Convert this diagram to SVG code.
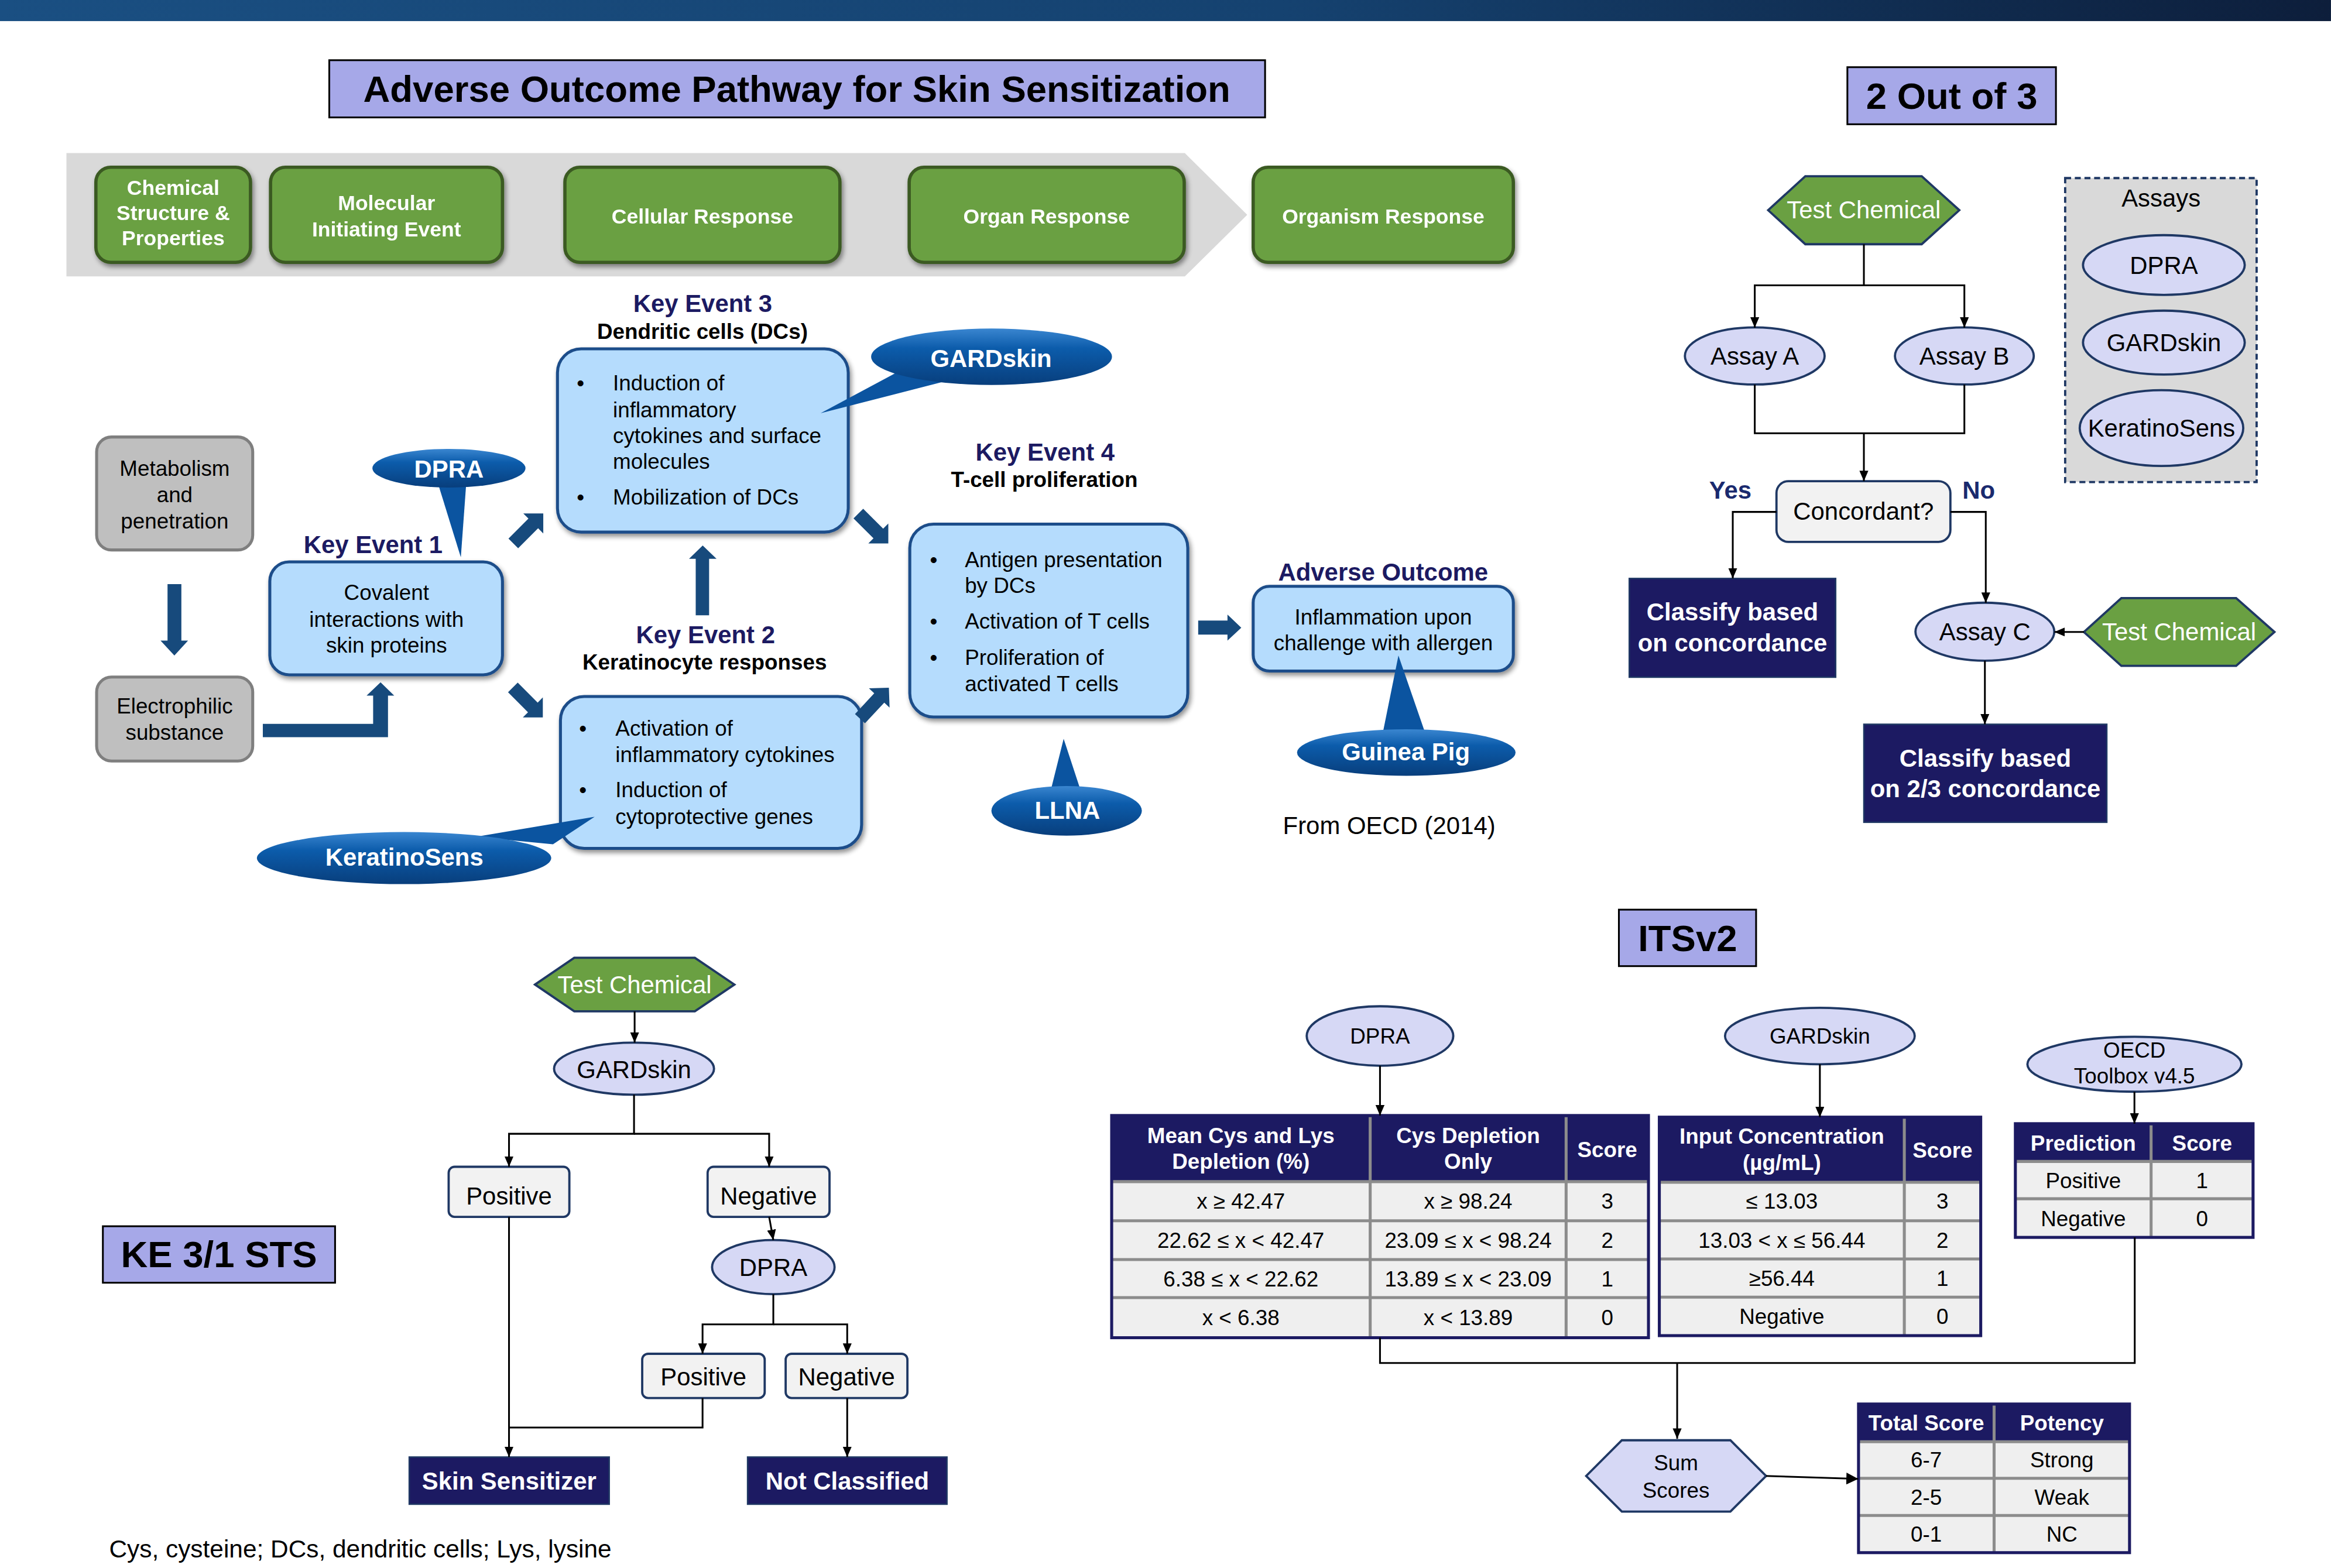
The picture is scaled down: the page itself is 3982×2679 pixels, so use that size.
<svg xmlns="http://www.w3.org/2000/svg" width="3982" height="2679" viewBox="0 0 3982 2679">
<defs>
<style>
text{font-family:"Liberation Sans",Arial,Helvetica,sans-serif;fill:#000}
.b{font-weight:bold}
.m{text-anchor:middle}
.w{fill:#fff}
.nv{fill:#1c1a62}
.f25{font-size:25px}
.f165{font-size:16.5px}
.f145{font-size:14.5px}
.f14{font-size:14px}
.green{fill:#6aa042;stroke:#3b5a22;stroke-width:2.2}
.blue{fill:#b5dcfd;stroke:#1f4e8a;stroke-width:2}
.gray{fill:#bfbfbf;stroke:#7f7f7f;stroke-width:2}
.lav{fill:#a6a8e8;stroke:#000;stroke-width:1.2}
.ell{fill:#d6d8f5;stroke:#1f3864;stroke-width:1.5}
.hexg{fill:#6aa042;stroke:#1f3864;stroke-width:1.5}
.navy{fill:#1c1a62;stroke:#1f3864;stroke-width:1}
.pn{fill:#f2f2f2;stroke:#1f3864;stroke-width:1.5}
.blk{fill:#174a7c}
.co{fill:url(#cog)}
.cot{fill:#0b54a0}
.ln{fill:none;stroke:#000;stroke-width:1.2}
.th{fill:#1c1a62}
.tb{fill:#efefef}
.gl{stroke:#8c8c8c;stroke-width:2}
.tbo{fill:none;stroke:#1c1a62;stroke-width:2}
</style>
<linearGradient id="hdr" x1="0" y1="0" x2="1" y2="0"><stop offset="0" stop-color="#1a4f82"/><stop offset="0.55" stop-color="#154270"/><stop offset="1" stop-color="#0d1e3b"/></linearGradient>
<linearGradient id="cog" x1="0" y1="0" x2="0" y2="1"><stop offset="0" stop-color="#3a86d0"/><stop offset="0.35" stop-color="#0c5cab"/><stop offset="1" stop-color="#083e7c"/></linearGradient>
<filter id="sh" x="-10%" y="-10%" width="125%" height="135%"><feGaussianBlur in="SourceAlpha" stdDeviation="1.6"/><feOffset dx="1.2" dy="1.8"/><feComponentTransfer><feFuncA type="linear" slope="0.45"/></feComponentTransfer><feMerge><feMergeNode/><feMergeNode in="SourceGraphic"/></feMerge></filter>
<marker id="ah" viewBox="0 0 7 6" refX="7" refY="3" markerWidth="7" markerHeight="6" markerUnits="userSpaceOnUse" orient="auto"><path d="M0,0 L7,3 L0,6 Z" fill="#000"/></marker>
<marker id="ahb" viewBox="0 0 8 8" refX="8" refY="4" markerWidth="8" markerHeight="8" markerUnits="userSpaceOnUse" orient="auto"><path d="M0,0 L8,4 L0,8 Z" fill="#000"/></marker>
<path id="diag" d="M0,-4.6 L19,-4.6 L19,-9.5 L28.5,0 L19,9.5 L19,4.6 L0,4.6 Z"/>
</defs>
<g transform="scale(2.5395)">
<rect x="0" y="0" width="1568" height="14.2" fill="url(#hdr)"/>

<!-- ===== AOP section ===== -->
<g id="aop-title"><rect class="lav" x="221.5" y="40.5" width="629.5" height="38.5"/><text class="b m f25" x="536" y="68.5">Adverse Outcome Pathway for Skin Sensitization</text></g>

<polygon id="aop-band" points="44.7,103 797,103 839,144.5 797,186 44.7,186" fill="#d9d9d9"/>

<g id="g-chem" filter="url(#sh)"><rect class="green" x="64.5" y="112.5" width="104" height="64" rx="10"/>
<text class="b m w f14" x="116.5" y="131">Chemical</text><text class="b m w f14" x="116.5" y="148">Structure &amp;</text><text class="b m w f14" x="116.5" y="165">Properties</text></g>
<g id="g-mie" filter="url(#sh)"><rect class="green" x="182" y="112.5" width="156" height="64" rx="10"/>
<text class="b m w f14" x="260" y="141.5">Molecular</text><text class="b m w f14" x="260" y="159">Initiating Event</text></g>
<g id="g-cell" filter="url(#sh)"><rect class="green" x="380" y="112.5" width="185" height="64" rx="10"/><text class="b m w f14" x="472.5" y="150.5">Cellular Response</text></g>
<g id="g-organ" filter="url(#sh)"><rect class="green" x="611.6" y="112.5" width="185" height="64" rx="10"/><text class="b m w f14" x="704" y="150.5">Organ Response</text></g>
<g id="g-organism" filter="url(#sh)"><rect class="green" x="843" y="112.5" width="175" height="64" rx="10"/><text class="b m w f14" x="930.5" y="150.5">Organism Response</text></g>

<g id="metabolism"><rect class="gray" x="65" y="294" width="105" height="76" rx="10"/>
<text class="m f145" x="117.5" y="320">Metabolism</text><text class="m f145" x="117.5" y="338">and</text><text class="m f145" x="117.5" y="355.4">penetration</text></g>
<g id="electrophilic"><rect class="gray" x="65" y="455.5" width="105" height="56.5" rx="10"/>
<text class="m f145" x="117.5" y="480">Electrophilic</text><text class="m f145" x="117.5" y="497.6">substance</text></g>

<g id="ke1"><text class="b m nv f165" x="251" y="372">Key Event 1</text>
<rect class="blue" x="181.5" y="378" width="156.5" height="76" rx="13" filter="url(#sh)"/>
<text class="m f145" x="260" y="403.7">Covalent</text><text class="m f145" x="260" y="421.8">interactions with</text><text class="m f145" x="260" y="439">skin proteins</text></g>

<g id="ke3"><text class="b m nv f165" x="472.7" y="210">Key Event 3</text><text class="b m f145" x="472.5" y="228">Dendritic cells (DCs)</text>
<rect class="blue" x="375" y="234.7" width="195.6" height="123.3" rx="16" filter="url(#sh)"/>
<text class="f145" x="388" y="262.8">•</text><text class="f145" x="412.3" y="262.8">Induction of</text>
<text class="f145" x="412.3" y="280.8">inflammatory</text><text class="f145" x="412.3" y="298">cytokines and surface</text><text class="f145" x="412.3" y="315.3">molecules</text>
<text class="f145" x="388" y="339.6">•</text><text class="f145" x="412.3" y="339.6">Mobilization of DCs</text></g>

<g id="ke2"><text class="b m nv f165" x="474.6" y="432.7">Key Event 2</text><text class="b m f145" x="474" y="450.6">Keratinocyte responses</text>
<rect class="blue" x="377" y="468.6" width="202.6" height="102.2" rx="16" filter="url(#sh)"/>
<text class="f145" x="389.5" y="494.8">•</text><text class="f145" x="414" y="494.8">Activation of</text><text class="f145" x="414" y="512.7">inflammatory cytokines</text>
<text class="f145" x="389.5" y="536.3">•</text><text class="f145" x="414" y="536.3">Induction of</text><text class="f145" x="414" y="554.3">cytoprotective genes</text></g>

<g id="ke4"><text class="b m nv f165" x="703" y="309.8">Key Event 4</text><text class="b m f145" x="702.5" y="327.6">T-cell proliferation</text>
<rect class="blue" x="612" y="352.6" width="187" height="129.8" rx="16" filter="url(#sh)"/>
<text class="f145" x="625.5" y="381.6">•</text><text class="f145" x="649" y="381.6">Antigen presentation</text><text class="f145" x="649" y="399">by DCs</text>
<text class="f145" x="625.5" y="423">•</text><text class="f145" x="649" y="423">Activation of T cells</text>
<text class="f145" x="625.5" y="447.3">•</text><text class="f145" x="649" y="447.3">Proliferation of</text><text class="f145" x="649" y="465">activated T cells</text></g>

<g id="adverse-outcome"><text class="b m nv f165" x="930.4" y="390.5">Adverse Outcome</text>
<rect class="blue" x="843" y="394.5" width="175" height="57" rx="11" filter="url(#sh)"/>
<text class="m f145" x="930.5" y="420">Inflammation upon</text><text class="m f145" x="930.5" y="437.5">challenge with allergen</text></g>

<text id="oecd-source" class="m f165" x="934.5" y="561">From OECD (2014)</text>

<g id="aop-arrows">
<polygon class="blk" points="112.7,393 122,393 122,431 126.5,431 117.3,441 108,431 112.7,431"/>
<polygon class="blk" points="176.8,487 251,487 251,468 246.6,468 256,459 265.2,468 261,468 261,496 176.8,496"/>
<polygon class="blk" points="468,414 477,414 477,376 482,376 472.7,367 463.5,376 468,376"/>
<polygon class="blk" points="806,417.5 825.7,417.5 825.7,413.5 835,422.3 825.7,431 825.7,427 806,427"/>
<use href="#diag" class="blk" transform="translate(345.3,365.6) rotate(-45)"/>
<use href="#diag" class="blk" transform="translate(345,462.5) rotate(45)"/>
<use href="#diag" class="blk" transform="translate(577.4,345.5) rotate(45)"/>
<use href="#diag" class="blk" transform="translate(578.5,483.5) rotate(-47)"/>
</g>

<g id="callout-dpra"><polygon class="cot" points="293,320 314,320 310,375"/><ellipse class="co" cx="302" cy="315" rx="51.5" ry="13"/><text class="b m w f165" x="302" y="321.4">DPRA</text></g>
<g id="callout-gardskin"><polygon class="cot" points="608,248 638,256 552,278"/><ellipse class="co" cx="667" cy="240" rx="81" ry="19"/><text class="b m w f165" x="666.7" y="246.8">GARDskin</text></g>
<g id="callout-keratinosens"><polygon class="cot" points="320,563 372,568 400,549.5"/><ellipse class="co" cx="271.8" cy="577.3" rx="99" ry="17.5"/><text class="b m w f165" x="272" y="582.5">KeratinoSens</text></g>
<g id="callout-llna"><polygon class="cot" points="706,535 728,535 715.5,497"/><ellipse class="co" cx="717.5" cy="545.5" rx="50.6" ry="16.7"/><text class="b m w f165" x="718" y="550.7">LLNA</text></g>
<g id="callout-guineapig"><polygon class="cot" points="930,494 959,494 940.7,441"/><ellipse class="co" cx="946" cy="506.3" rx="73.5" ry="15.7"/><text class="b m w f165" x="945.7" y="511.4">Guinea Pig</text></g>

<!-- ===== 2 out of 3 ===== -->
<g id="t2o3-title"><rect class="lav" x="1242.7" y="45.2" width="140.3" height="38.4"/><text class="b m f25" x="1312.9" y="73.4">2 Out of 3</text></g>
<g id="t2o3-test"><polygon class="hexg" points="1189.4,141.4 1214.4,118.6 1292.7,118.6 1318,141.4 1292.7,164.3 1214.4,164.3"/><text class="m w f165" x="1253.7" y="147">Test Chemical</text></g>
<g id="assay-a"><ellipse class="ell" cx="1180.4" cy="239.5" rx="47" ry="19.2"/><text class="m f165" x="1180.4" y="245.3">Assay A</text></g>
<g id="assay-b"><ellipse class="ell" cx="1321.4" cy="239.5" rx="46.7" ry="19.2"/><text class="m f165" x="1321.4" y="245.3">Assay B</text></g>
<g id="concordant"><rect class="pn" x="1195" y="323.7" width="117" height="40.9" rx="8"/><text class="m f165" x="1253.5" y="349.7">Concordant?</text></g>
<text class="b m f165" x="1164" y="335.6" style="fill:#1a2a6e">Yes</text>
<text class="b m f165" x="1331" y="335.6" style="fill:#1a2a6e">No</text>
<g id="classify-1"><rect class="navy" x="1096" y="389.2" width="138.8" height="66.4"/><text class="b m w f165" x="1165.4" y="417.3">Classify based</text><text class="b m w f165" x="1165.4" y="438.3">on concordance</text></g>
<g id="assay-c"><ellipse class="ell" cx="1335.2" cy="425" rx="46.7" ry="19.5"/><text class="m f165" x="1335.2" y="430.6">Assay C</text></g>
<g id="t2o3-test2"><polygon class="hexg" points="1401.8,425.2 1427,402.4 1504.2,402.4 1530,425.2 1504.2,448 1427,448"/><text class="m w f165" x="1465.9" y="430.6">Test Chemical</text></g>
<g id="classify-2"><rect class="navy" x="1253.8" y="487.3" width="163.4" height="65.9"/><text class="b m w f165" x="1335.5" y="515.8">Classify based</text><text class="b m w f165" x="1335.5" y="536.5">on 2/3 concordance</text></g>
<g id="assays-box"><rect x="1389.2" y="119.8" width="128.8" height="204.5" fill="#d9d9d9" stroke="#1f3864" stroke-width="1.5" stroke-dasharray="4,2.5"/>
<text class="m f165" x="1453.7" y="139">Assays</text>
<ellipse class="ell" cx="1455.6" cy="178.3" rx="54.4" ry="20.1"/><text class="m f165" x="1455.6" y="184.2">DPRA</text>
<ellipse class="ell" cx="1455.6" cy="230.5" rx="54.4" ry="21.5"/><text class="m f165" x="1455.6" y="236.2">GARDskin</text>
<ellipse class="ell" cx="1454" cy="288" rx="55" ry="25.5"/><text class="m f165" x="1454" y="293.6">KeratinoSens</text></g>
<g id="t2o3-connectors">
<path class="ln" d="M1253.8,164.3 V192 H1180.4 V220.4" marker-end="url(#ah)"/>
<path class="ln" d="M1253.8,192 H1321.4 V220.4" marker-end="url(#ah)"/>
<path class="ln" d="M1180.4,258.7 V291.5 H1321.4 V258.7"/>
<path class="ln" d="M1253.8,291.5 V323.7" marker-end="url(#ah)"/>
<path class="ln" d="M1195,344.4 H1165.6 V389.2" marker-end="url(#ah)"/>
<path class="ln" d="M1312,344.4 H1335.8 V405.6" marker-end="url(#ah)"/>
<path class="ln" d="M1401.8,425.2 H1382" stroke-width="2" marker-end="url(#ah)"/>
<path class="ln" d="M1335.2,444.5 V487.3" marker-end="url(#ah)"/>
</g>

<!-- ===== ITSv2 ===== -->
<g id="its-title"><rect class="lav" x="1089" y="612" width="92.3" height="38"/><text class="b m f25" x="1135.2" y="640">ITSv2</text></g>
<g id="its-dpra"><ellipse class="ell" cx="928.3" cy="697" rx="49.3" ry="20"/><text class="m f145" x="928.3" y="702.2">DPRA</text></g>
<g id="its-gardskin"><ellipse class="ell" cx="1224.2" cy="697" rx="63.8" ry="19"/><text class="m f145" x="1224.2" y="702.2">GARDskin</text></g>
<g id="its-oecd"><ellipse class="ell" cx="1435.8" cy="716" rx="72" ry="18.5"/><text class="m f145" x="1435.8" y="711.4">OECD</text><text class="m f145" x="1435.8" y="729">Toolbox v4.5</text></g>

<g id="table-dpra">
<rect class="tb" x="747.8" y="750.5" width="361.1" height="149.5"/>
<rect class="th" x="747.8" y="750.5" width="361.1" height="44.1"/>
<line class="gl" x1="747.8" y1="795" x2="1108.9" y2="795" stroke-width="2.6"/>
<line class="gl" x1="747.8" y1="821.3" x2="1108.9" y2="821.3"/>
<line class="gl" x1="747.8" y1="847.4" x2="1108.9" y2="847.4"/>
<line class="gl" x1="747.8" y1="873" x2="1108.9" y2="873"/>
<line class="gl" x1="921.7" y1="751.5" x2="921.7" y2="900" stroke-width="1.5"/>
<line class="gl" x1="1053.5" y1="751.5" x2="1053.5" y2="900" stroke-width="1.5"/>
<rect class="tbo" x="747.8" y="750.5" width="361.1" height="149.5"/>
<text class="b m w f145" x="834.7" y="769">Mean Cys and Lys</text><text class="b m w f145" x="834.7" y="786.5">Depletion (%)</text>
<text class="b m w f145" x="987.6" y="769">Cys Depletion</text><text class="b m w f145" x="987.6" y="786.5">Only</text>
<text class="b m w f145" x="1081.2" y="778.5">Score</text>
<text class="m f145" x="834.7" y="813.2">x ≥ 42.47</text><text class="m f145" x="987.6" y="813.2">x ≥ 98.24</text><text class="m f145" x="1081.2" y="813.2">3</text>
<text class="m f145" x="834.7" y="839.5">22.62 ≤ x &lt; 42.47</text><text class="m f145" x="987.6" y="839.5">23.09 ≤ x &lt; 98.24</text><text class="m f145" x="1081.2" y="839.5">2</text>
<text class="m f145" x="834.7" y="865.4">6.38 ≤ x &lt; 22.62</text><text class="m f145" x="987.6" y="865.4">13.89 ≤ x &lt; 23.09</text><text class="m f145" x="1081.2" y="865.4">1</text>
<text class="m f145" x="834.7" y="891.7">x &lt; 6.38</text><text class="m f145" x="987.6" y="891.7">x &lt; 13.89</text><text class="m f145" x="1081.2" y="891.7">0</text>
</g>

<g id="table-gardskin">
<rect class="tb" x="1116.2" y="751.6" width="216.2" height="147"/>
<rect class="th" x="1116.2" y="751.6" width="216.2" height="43.4"/>
<line class="gl" x1="1116.2" y1="795.4" x2="1332.4" y2="795.4" stroke-width="2.6"/>
<line class="gl" x1="1116.2" y1="821.3" x2="1332.4" y2="821.3"/>
<line class="gl" x1="1116.2" y1="847" x2="1332.4" y2="847"/>
<line class="gl" x1="1116.2" y1="872.7" x2="1332.4" y2="872.7"/>
<line class="gl" x1="1281" y1="752.6" x2="1281" y2="898.6" stroke-width="1.5"/>
<rect class="tbo" x="1116.2" y="751.6" width="216.2" height="147"/>
<text class="b m w f145" x="1198.6" y="769.5">Input Concentration</text><text class="b m w f145" x="1198.6" y="787">(µg/mL)</text>
<text class="b m w f145" x="1306.7" y="778.8">Score</text>
<text class="m f145" x="1198.6" y="813.3">≤ 13.03</text><text class="m f145" x="1306.7" y="813.3">3</text>
<text class="m f145" x="1198.6" y="839.4">13.03 &lt; x ≤ 56.44</text><text class="m f145" x="1306.7" y="839.4">2</text>
<text class="m f145" x="1198.6" y="865">≥56.44</text><text class="m f145" x="1306.7" y="865">1</text>
<text class="m f145" x="1198.6" y="890.9">Negative</text><text class="m f145" x="1306.7" y="890.9">0</text>
</g>

<g id="table-oecd">
<rect class="tb" x="1355.7" y="756" width="159.9" height="76.5"/>
<rect class="th" x="1355.7" y="756" width="159.9" height="25"/>
<line class="gl" x1="1355.7" y1="781.4" x2="1515.6" y2="781.4" stroke-width="2.6"/>
<line class="gl" x1="1355.7" y1="806.5" x2="1515.6" y2="806.5"/>
<line class="gl" x1="1447" y1="757" x2="1447" y2="832.5" stroke-width="1.5"/>
<rect class="tbo" x="1355.7" y="756" width="159.9" height="76.5"/>
<text class="b m w f145" x="1401.4" y="774.2">Prediction</text><text class="b m w f145" x="1481.3" y="774.2">Score</text>
<text class="m f145" x="1401.4" y="799.2">Positive</text><text class="m f145" x="1481.3" y="799.2">1</text>
<text class="m f145" x="1401.4" y="824.8">Negative</text><text class="m f145" x="1481.3" y="824.8">0</text>
</g>

<g id="sum-scores"><polygon class="ell" points="1067,993 1091,969 1164,969 1188,993 1164,1017 1091,1017"/><text class="m f145" x="1127.4" y="989">Sum</text><text class="m f145" x="1127.4" y="1007.5">Scores</text></g>

<g id="table-potency">
<rect class="tb" x="1250.2" y="944.6" width="182.3" height="100"/>
<rect class="th" x="1250.2" y="944.6" width="182.3" height="25"/>
<line class="gl" x1="1250.2" y1="970" x2="1432.5" y2="970" stroke-width="2.6"/>
<line class="gl" x1="1250.2" y1="994.6" x2="1432.5" y2="994.6"/>
<line class="gl" x1="1250.2" y1="1019.6" x2="1432.5" y2="1019.6"/>
<line class="gl" x1="1341.4" y1="945.6" x2="1341.4" y2="1044.6" stroke-width="1.5"/>
<rect class="tbo" x="1250.2" y="944.6" width="182.3" height="100"/>
<text class="b m w f145" x="1295.8" y="962.2">Total Score</text><text class="b m w f145" x="1387" y="962.2">Potency</text>
<text class="m f145" x="1295.8" y="987.3">6-7</text><text class="m f145" x="1387" y="987.3">Strong</text>
<text class="m f145" x="1295.8" y="1012.3">2-5</text><text class="m f145" x="1387" y="1012.3">Weak</text>
<text class="m f145" x="1295.8" y="1037.3">0-1</text><text class="m f145" x="1387" y="1037.3">NC</text>
</g>

<g id="its-connectors">
<path class="ln" d="M928.3,717 V750.5" marker-end="url(#ah)"/>
<path class="ln" d="M1224.2,716 V751.6" marker-end="url(#ah)"/>
<path class="ln" d="M1435.8,734.5 V756" marker-end="url(#ah)"/>
<path class="ln" d="M928.3,900 V917 H1436 V832.5"/>
<path class="ln" d="M1128.2,917 V968" marker-end="url(#ah)"/>
<path class="ln" d="M1188,993 L1250,995" stroke-width="2.2" marker-end="url(#ahb)"/>
</g>

<!-- ===== KE 3/1 STS ===== -->
<g id="ke31-title"><rect class="lav" x="69.2" y="825" width="156.2" height="38"/><text class="b m f25" x="147.3" y="852.7">KE 3/1 STS</text></g>
<g id="ke31-test"><polygon class="hexg" points="359.9,662.4 386.3,644.4 467.4,644.4 494,662.4 467.4,680.4 386.3,680.4"/><text class="m w f165" x="426.9" y="668.4">Test Chemical</text></g>
<g id="ke31-gardskin"><ellipse class="ell" cx="426.5" cy="719" rx="53.8" ry="17.5"/><text class="m f165" x="426.5" y="725.2">GARDskin</text></g>
<g id="ke31-pos1"><rect class="pn" x="301.8" y="785" width="81.2" height="33.7" rx="4"/><text class="m f165" x="342.4" y="810.2">Positive</text></g>
<g id="ke31-neg1"><rect class="pn" x="476" y="785" width="82" height="33.7" rx="4"/><text class="m f165" x="517" y="810.2">Negative</text></g>
<g id="ke31-dpra"><ellipse class="ell" cx="520.2" cy="852.5" rx="41.2" ry="18.2"/><text class="m f165" x="520.2" y="858.5">DPRA</text></g>
<g id="ke31-pos2"><rect class="pn" x="432" y="910.8" width="82.4" height="29.8" rx="4"/><text class="m f165" x="473.2" y="932">Positive</text></g>
<g id="ke31-neg2"><rect class="pn" x="528.5" y="910.8" width="81.9" height="29.8" rx="4"/><text class="m f165" x="569.5" y="932">Negative</text></g>
<g id="ke31-sensitizer"><rect class="navy" x="275.3" y="980.3" width="134.5" height="31.7"/><text class="b m w f165" x="342.5" y="1002">Skin Sensitizer</text></g>
<g id="ke31-notclass"><rect class="navy" x="502.9" y="980.3" width="134.1" height="31.7"/><text class="b m w f165" x="570" y="1002">Not Classified</text></g>
<g id="ke31-connectors">
<path class="ln" d="M426.9,680.4 V701.5" marker-end="url(#ah)"/>
<path class="ln" d="M426.5,736.5 V762.8 H342.4 V785" marker-end="url(#ah)"/>
<path class="ln" d="M426.5,762.8 H517.4 V785" marker-end="url(#ah)"/>
<path class="ln" d="M517.4,818.7 L520.2,834.3" marker-end="url(#ah)"/>
<path class="ln" d="M520.2,870.7 V891 H472.6 V910.8" marker-end="url(#ah)"/>
<path class="ln" d="M520.2,891 H569.9 V910.8" marker-end="url(#ah)"/>
<path class="ln" d="M342.4,818.7 V980.3" marker-end="url(#ah)"/>
<path class="ln" d="M472.6,940.6 V960.4 H342.4"/>
<path class="ln" d="M569.9,940.6 V980.3" marker-end="url(#ah)"/>
</g>

<text id="footnote" class="f165" x="73.4" y="1048" style="font-size:16.7px">Cys, cysteine; DCs, dendritic cells; Lys, lysine</text>
</g>
</svg>
